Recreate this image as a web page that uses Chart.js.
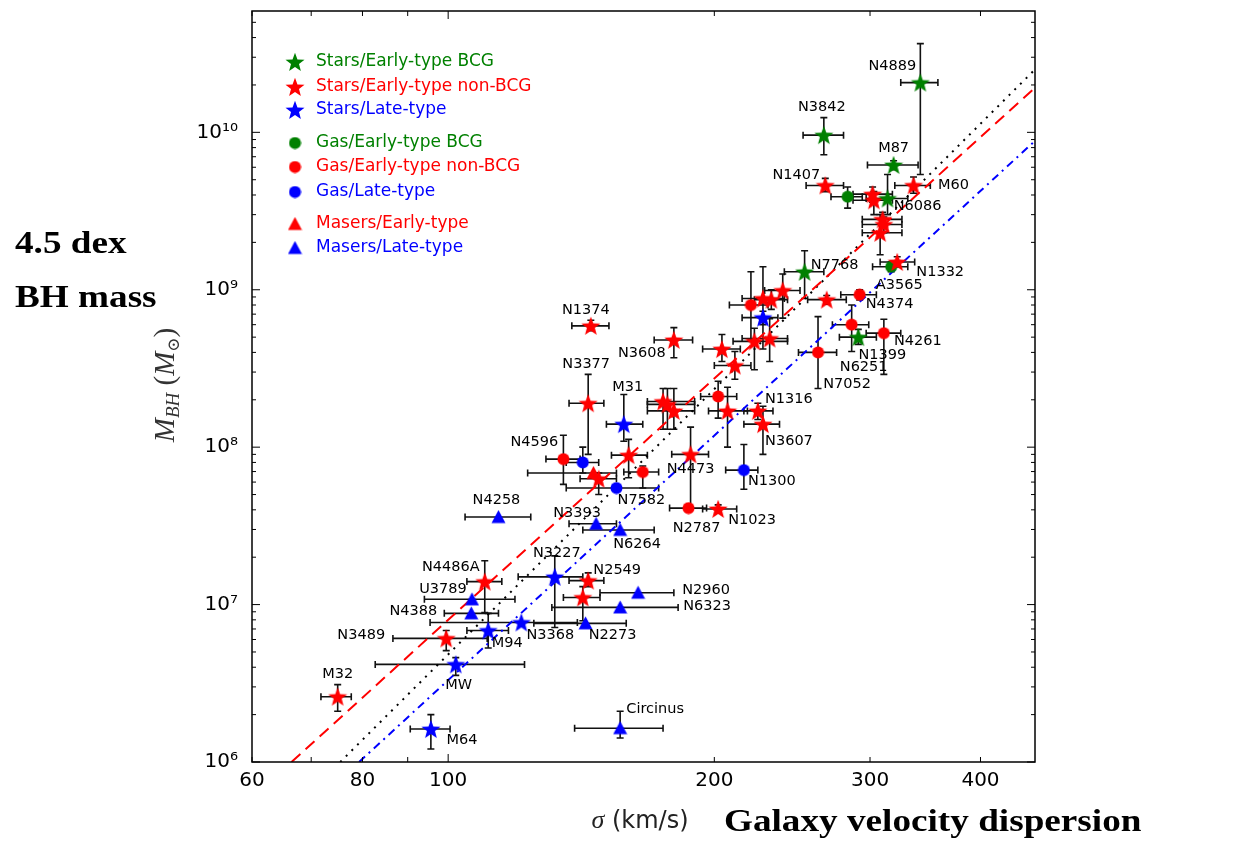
<!DOCTYPE html>
<html>
<head>
<meta charset="utf-8">
<script src="https://cdn.jsdelivr.net/npm/chart.js@4.4.0/dist/chart.umd.min.js"></script>
<style>
  html, body { margin: 0; padding: 0; background: #fff; }
</style>
</head>
<body>
<canvas id="myChart" width="1252" height="854"></canvas>
<script>
// data - one entry per galaxy

const names = [
  'N4889', 'N3842', 'M87', 'N1407', 'M60', '', '', '', 'N6086', '', '', '',
  'N1332', 'A3565', 'N7768', 'N4374', '', '', '', '', '', '', '', '', '', '',
  'N3608', 'N7052', 'N6251', 'N1399', 'N4261', '', '', 'N1316', 'N3607', '', '', '',
  'N4473', 'N1300', 'N2787', 'N1023', 'N1374', 'N3377', 'M31', 'N4596', '', '', '', '', '',
  'N7582', 'N4258', 'N3393', 'N6264', 'N3227', 'N2549', '', 'N2960', 'N6323', 'N2273',
  'N3368', 'Circinus', 'N4486A', 'U3789', 'N4388', 'M94', 'N3489', 'MW', 'M32', 'M64'
];

// SB/SE/SL = stars BCG/early/late, GB/GE/GL = gas, ME/ML = masers
const kinds = [
  'SB', 'SB', 'SB', 'SE', 'SE', 'GB', 'SE', 'SE', 'SB', 'SE', 'SE', 'SE',
  'SE', 'GB', 'SB', 'GE', 'SE', 'SE', 'SE', 'SE', 'GE', 'SL', 'SE', 'SE', 'SE', 'SE',
  'SE', 'GE', 'GE', 'SB', 'GE', 'GE', 'SE', 'SE', 'SE', 'SE', 'SE', 'SE',
  'SE', 'GL', 'GE', 'SE', 'SE', 'SE', 'SL', 'GE', 'GL', 'SE', 'GE', 'ME', 'SE',
  'GL', 'ML', 'ML', 'ML', 'SL', 'SE', 'SE', 'ML', 'ML', 'ML',
  'SL', 'ML', 'SE', 'ML', 'ML', 'SL', 'SE', 'SL', 'SE', 'SL'
];

const sigma = [
  342, 266, 319, 267, 336, 283, 302, 303, 314, 310, 311, 308,
  322, 317, 253, 292, 268, 239, 227, 232, 220, 227, 222, 231, 204, 211,
  180, 262, 286, 291, 311, 202, 207, 224, 227, 175, 177, 180,
  188, 216, 187, 202, 145, 144, 158, 135, 142, 160, 166, 146, 148,
  155, 114, 147, 156.5, 132, 144, 142, 164, 156.5, 143,
  121, 156.5, 110, 106.4, 106.2, 111, 99.5, 102, 75, 95.6
];
const sigmaLo = [
  325, 252, 298, 254, 320, 271, 287, 287, 297, 294, 294, 294,
  308, 302, 240, 278, 255, 228, 215, 222, 208, 215, 210, 215, 194, 200,
  171, 249, 272, 277, 297, 193, 197, 216, 216, 168, 168, 168,
  179, 206, 178, 194, 138, 137, 151, 129, 136, 153, 158, 123, 141,
  136, 104.5, 137, 142, 120, 137, 135, 148.5, 131, 125,
  95.4, 139, 105, 94, 99, 105, 86.6, 82.7, 71.8, 90.6
];
const sigmaHi = [
  358, 280, 340, 280, 351, 294, 318, 318, 331, 326, 326, 326,
  337, 331, 266, 305, 282, 250, 240, 242, 230, 236, 242, 242, 214, 220,
  189, 275, 299, 305, 325, 212, 218, 233, 237, 190, 190, 190,
  197, 224, 196, 212, 152, 150, 166, 141, 148, 168, 173, 155, 155,
  173, 124, 155, 171, 142, 150, 148.5, 180, 182, 159,
  140, 175, 115, 119, 114, 117, 110.7, 122, 77.7, 100.5
];

const mass = [
  2.07e10, 9.6e9, 6.2e9, 4.6e9, 4.6e9, 3.9e9, 4.05e9, 3.7e9, 3.8e9, 2.8e9, 2.6e9, 2.3e9,
  1.5e9, 1.4e9, 1.3e9, 9.3e8, 8.65e8, 9.9e8, 8.8e8, 8.65e8, 8.0e8, 6.65e8, 4.7e8, 4.9e8, 4.2e8, 3.3e8,
  4.8e8, 4.0e8, 6.0e8, 5.0e8, 5.3e8, 2.1e8, 1.7e8, 1.7e8, 1.4e8, 1.95e8, 1.87e8, 1.7e8,
  9.0e7, 7.15e7, 4.1e7, 4.05e7, 5.9e8, 1.9e8, 1.4e8, 8.4e7, 8.0e7, 8.9e7, 6.95e7, 6.85e7, 6.3e7,
  5.5e7, 3.6e7, 3.26e7, 2.98e7, 1.5e7, 1.42e7, 1.11e7, 1.19e7, 9.6e6, 7.6e6,
  7.7e6, 1.64e6, 1.4e7, 1.08e7, 8.8e6, 6.85e6, 6.1e6, 4.17e6, 2.6e6, 1.62e6
];
const massLo = [
  5.4e9, 7.2e9, 5.8e9, 4.2e9, 4.1e9, 3.3e9, 3.6e9, 3.0e9, 3.0e9, 2.5e9, 2.3e9, 1.67e9,
  1.4e9, 1.3e9, 8.8e8, 8.6e8, 8.1e8, 6.6e8, 4.2e8, 7.5e8, 4.8e8, 6.0e8, 3.1e8, 3.5e8, 3.5e8, 2.7e8,
  3.7e8, 2.36e8, 4.05e8, 4.5e8, 2.9e8, 1.53e8, 1.0e8, 1.5e8, 9.0e7, 1.3e8, 1.3e8, 1.3e8,
  4.1e7, 5.4e7, 3.9e7, 3.8e7, 5.5e8, 9.0e7, 1.09e8, 5.8e7, 6.85e7, 6.4e7, 5.5e7, 6.85e7, 5.0e7,
  5.5e7, 3.6e7, 3.26e7, 2.98e7, 7.15e6, 1.3e7, 7.9e6, 1.19e7, 9.6e6, 7.6e6,
  7.7e6, 1.42e6, 8.9e6, 1.08e7, 8.8e6, 5.3e6, 5.1e6, 3.55e6, 2.1e6, 1.21e6
];
const massHi = [
  3.66e10, 1.24e10, 6.6e9, 5.1e9, 5.2e9, 4.5e9, 4.5e9, 4.2e9, 5.4e9, 3.1e9, 2.9e9, 3.0e9,
  1.62e9, 1.5e9, 1.77e9, 1.0e9, 9.2e8, 1.26e9, 1.4e9, 1.0e9, 1.3e9, 7.3e8, 5.7e8, 6.55e8, 5.2e8, 4.05e8,
  5.75e8, 6.75e8, 8.0e8, 5.6e8, 6.5e8, 2.62e8, 2.4e8, 1.9e8, 1.82e8, 2.36e8, 2.36e8, 2.36e8,
  1.34e8, 1.04e8, 4.3e7, 4.3e7, 6.4e8, 2.9e8, 2.16e8, 1.19e8, 1.0e8, 1.12e8, 7.6e7, 6.85e7, 6.85e7,
  5.5e7, 3.6e7, 3.26e7, 2.98e7, 2.04e7, 1.59e7, 1.3e7, 1.19e7, 9.6e6, 7.6e6,
  7.7e6, 2.1e6, 1.9e7, 1.08e7, 8.8e6, 8.8e6, 6.85e6, 4.6e6, 3.1e6, 2.0e6
];

// fit lines: end points (sigma, M_BH)
const fitEarlySigma = [66.5, 461];
const fitEarlyMass = [1e6, 1.92e10];
const fitAllSigma = [75.5, 461];
const fitAllMass = [1e6, 2.51e10];
const fitLateSigma = [79.3, 461];
const fitLateMass = [1e6, 8.83e9];

// axes
const xTicks = [60, 80, 100, 200, 300, 400];
const yTicks = [1e6, 1e7, 1e8, 1e9, 1e10];
const yTickLabels = ['10⁶', '10⁷', '10⁸', '10⁹', '10¹⁰'];

// styling

const GREEN = '#008000';
const RED = '#ff0000';
const BLUE = '#0000ff';

const kindOrder = ['SB', 'SE', 'SL', 'GB', 'GE', 'GL', 'ME', 'ML'];
const kindInfo = {
  SB: { text: 'Stars/Early-type BCG', shape: 'star', color: GREEN },
  SE: { text: 'Stars/Early-type non-BCG', shape: 'star', color: RED },
  SL: { text: 'Stars/Late-type', shape: 'star', color: BLUE },
  GB: { text: 'Gas/Early-type BCG', shape: 'circle', color: GREEN },
  GE: { text: 'Gas/Early-type non-BCG', shape: 'circle', color: RED },
  GL: { text: 'Gas/Late-type', shape: 'circle', color: BLUE },
  ME: { text: 'Masers/Early-type', shape: 'triangle', color: RED },
  ML: { text: 'Masers/Late-type', shape: 'triangle', color: BLUE }
};
const legendRows = [62, 87, 110, 143, 167, 192, 224, 248];
const markerSize = { star: 20, circle: 13, triangle: 15 };

// label offsets from the marker, px
const labelPos = {
  N4889: [-28, -16], N3842: [-2, -28], M87: [0, -17], N1407: [-29, -10], M60: [40, 0],
  N6086: [30, 8], N1332: [43, 10], A3565: [8, 18], N7768: [30, -7], N4374: [30, 10],
  N6251: [12, 43], N1399: [24, 18], N4261: [34, 8], N7052: [29, 32], N3608: [-32, 13],
  N1316: [31, -12], N3607: [26, 17], N4473: [0, 15], N1300: [28, 11], N2787: [8, 20],
  N1023: [34, 11], N1374: [-5, -16], N3377: [-2, -39], M31: [4, -37], N4596: [-29, -17],
  N7582: [25, 12], N4258: [-2, -17], N3393: [-19, -11], N6264: [17, 14], N3227: [2, -24],
  N2549: [29, -10], N2960: [68, -2], N6323: [87, -1], N2273: [27, 12], N3368: [29, 13],
  Circinus: [35, -19], N4486A: [-34, -14], U3789: [-29, -10], N4388: [-58, -2], M94: [19, 13],
  N3489: [-85, -3], MW: [3, 21], M32: [0, -22], M64: [31, 11]
};

function makeMarker(shape, color, size) {
  const c = document.createElement('canvas');
  c.width = size;
  c.height = size;
  const g = c.getContext('2d');
  const r = size / 2;
  g.fillStyle = color;
  g.beginPath();
  if (shape === 'star') {
    for (let k = 0; k < 10; k++) {
      const rr = k % 2 ? r * 0.42 : r;
      const a = -Math.PI / 2 + k * Math.PI / 5;
      g.lineTo(r + rr * Math.cos(a), r + 0.8 + rr * Math.sin(a));
    }
  } else if (shape === 'circle') {
    g.arc(r, r, r - 0.5, 0, Math.PI * 2);
  } else {
    g.moveTo(r, 0.5);
    g.lineTo(size - 0.5, size - 1.5);
    g.lineTo(0.5, size - 1.5);
  }
  g.closePath();
  g.fill();
  return c;
}

const markers = {};
kindOrder.forEach(k => {
  const info = kindInfo[k];
  markers[k] = makeMarker(info.shape, info.color, markerSize[info.shape]);
});

// datasets

function fitLine(xs, ys, color, dash) {
  return {
    type: 'line',
    data: [{ x: xs[0], y: ys[0] }, { x: xs[1], y: ys[1] }],
    borderColor: color,
    borderWidth: 2,
    borderDash: dash,
    pointRadius: 0,
    fill: false,
    order: 10
  };
}

const pointSets = kindOrder.map(k => ({
  label: kindInfo[k].text,
  data: sigma.map((s, i) => ({ x: s, y: mass[i], k: kinds[i] })).filter(p => p.k === k),
  pointStyle: markers[k],
  pointRadius: markerSize[kindInfo[k].shape] / 2,
  order: 0
}));

const data = {
  datasets: [
    fitLine(fitEarlySigma, fitEarlyMass, RED, [12, 7]),
    fitLine(fitAllSigma, fitAllMass, '#000', [2, 6]),
    fitLine(fitLateSigma, fitLateMass, BLUE, [8, 5, 2, 5]),
    ...pointSets
  ]
};

// plugin - error bars, frame, inward ticks, names, legend, annotations

function drawMixed(ctx, parts, x, y) {
  let w = 0;
  parts.forEach(p => { ctx.font = p[1]; w += ctx.measureText(p[0]).width; });
  let cx = x - w / 2;
  parts.forEach(p => {
    ctx.font = p[1];
    ctx.fillText(p[0], cx, y + (p[2] || 0));
    cx += ctx.measureText(p[0]).width;
  });
}

const decor = {
  id: 'decor',
  beforeDatasetsDraw(chart) {
    const { ctx, scales: { x, y } } = chart;
    ctx.save();
    ctx.strokeStyle = '#111';
    ctx.lineWidth = 1.6;
    const cap = 3.5;
    sigma.forEach((s, i) => {
      const px = x.getPixelForValue(s);
      const py = y.getPixelForValue(mass[i]);
      const x0 = x.getPixelForValue(sigmaLo[i]);
      const x1 = x.getPixelForValue(sigmaHi[i]);
      ctx.beginPath();
      ctx.moveTo(x0, py); ctx.lineTo(x1, py);
      ctx.moveTo(x0, py - cap); ctx.lineTo(x0, py + cap);
      ctx.moveTo(x1, py - cap); ctx.lineTo(x1, py + cap);
      if (massHi[i] > massLo[i]) {
        const y0 = y.getPixelForValue(massLo[i]);
        const y1 = y.getPixelForValue(massHi[i]);
        ctx.moveTo(px, y0); ctx.lineTo(px, y1);
        ctx.moveTo(px - cap, y0); ctx.lineTo(px + cap, y0);
        ctx.moveTo(px - cap, y1); ctx.lineTo(px + cap, y1);
      }
      ctx.stroke();
    });
    ctx.restore();
  },
  afterDatasetsDraw(chart) {
    const { ctx, chartArea: a, scales: { x, y } } = chart;
    ctx.save();

    // frame
    ctx.strokeStyle = '#000';
    ctx.lineWidth = 1.5;
    ctx.strokeRect(a.left, a.top, a.right - a.left, a.bottom - a.top);

    // inward tick marks
    ctx.lineWidth = 1;
    ctx.beginPath();
    for (let d = 6; d <= 10; d++) {
      for (let m = 1; m <= 9; m++) {
        const v = m * Math.pow(10, d);
        if (v > y.max) break;
        const py = y.getPixelForValue(v);
        const len = m === 1 ? 8 : 4;
        ctx.moveTo(a.left, py); ctx.lineTo(a.left + len, py);
        ctx.moveTo(a.right, py); ctx.lineTo(a.right - len, py);
      }
    }
    [60, 70, 80, 90, 100, 200, 300, 400].forEach(v => {
      const px = x.getPixelForValue(v);
      const len = v === 100 ? 8 : 5;
      ctx.moveTo(px, a.bottom); ctx.lineTo(px, a.bottom - len);
      ctx.moveTo(px, a.top); ctx.lineTo(px, a.top + len);
    });
    ctx.stroke();

    // galaxy names
    ctx.fillStyle = '#000';
    ctx.font = '14.5px "DejaVu Sans"';
    ctx.textAlign = 'center';
    ctx.textBaseline = 'middle';
    names.forEach((n, i) => {
      if (!n) return;
      const off = labelPos[n] || [0, -16];
      ctx.fillText(n, x.getPixelForValue(sigma[i]) + off[0], y.getPixelForValue(mass[i]) + off[1]);
    });

    // legend
    ctx.textAlign = 'left';
    ctx.font = '17px "DejaVu Sans"';
    kindOrder.forEach((k, r) => {
      const img = markers[k];
      const ly = legendRows[r];
      ctx.drawImage(img, 295 - img.width / 2, ly - img.height / 2);
      ctx.fillStyle = kindInfo[k].color;
      ctx.fillText(kindInfo[k].text, 316, ly);
    });

    ctx.restore();

    // axis titles and slide annotations
    ctx.save();
    ctx.fillStyle = '#333';
    ctx.textAlign = 'left';
    ctx.textBaseline = 'alphabetic';
    ctx.translate(174, 385);
    ctx.rotate(-Math.PI / 2);
    drawMixed(ctx, [
      ['M', 'italic 29px "Liberation Serif"'],
      ['BH', 'italic 19px "Liberation Serif"', 5],
      [' (', '29px "Liberation Serif"'],
      ['M', 'italic 29px "Liberation Serif"'],
      ['⊙', '17px "DejaVu Serif"', 5],
      [')', '29px "Liberation Serif"']
    ], 0, 0);
    ctx.restore();

    ctx.save();
    ctx.fillStyle = '#222';
    ctx.textAlign = 'left';
    ctx.textBaseline = 'alphabetic';
    drawMixed(ctx, [
      ['σ', 'italic 26px "Liberation Serif"'],
      [' (km/s)', '24px "DejaVu Sans"']
    ], 640, 828);

    ctx.fillStyle = '#000';
    ctx.font = 'bold 31px "Liberation Serif"';
    const big = [['4.5 dex', 15, 253], ['BH mass', 15, 307], ['Galaxy velocity dispersion', 724, 831]];
    big.forEach(t => {
      ctx.save();
      ctx.translate(t[1], t[2]);
      ctx.scale(1.2, 1);
      ctx.fillText(t[0], 0, 0);
      ctx.restore();
    });
    ctx.restore();
  }
};

// options

const options = {
  responsive: false,
  animation: false,
  events: [],
  devicePixelRatio: 1,
  layout: { padding: { left: 0, right: 217, top: 8, bottom: 0 } },
  plugins: {
    legend: { display: false },
    tooltip: { enabled: false }
  },
  scales: {
    x: {
      type: 'logarithmic',
      min: 60,
      max: 461,
      grid: { display: false, drawTicks: false },
      border: { display: false },
      afterBuildTicks: s => { s.ticks = xTicks.map(v => ({ value: v })); },
      afterFit: s => { s.height = 92; s.paddingLeft = 0; s.paddingRight = 0; },
      ticks: {
        autoSkip: false,
        maxRotation: 0,
        padding: 7,
        color: '#000',
        font: { family: 'DejaVu Sans', size: 20 },
        callback: (v, i) => String(xTicks[i])
      }
    },
    y: {
      type: 'logarithmic',
      min: 1e6,
      max: 5.9e10,
      grid: { display: false, drawTicks: false },
      border: { display: false },
      afterBuildTicks: s => { s.ticks = yTicks.map(v => ({ value: v })); },
      afterFit: s => { s.width = 252; s.paddingTop = 0; s.paddingBottom = 0; },
      ticks: {
        autoSkip: false,
        padding: 14,
        color: '#000',
        font: { family: 'DejaVu Sans', size: 20 },
        callback: (v, i) => yTickLabels[i]
      }
    }
  }
};

const config = {
  type: 'scatter',
  data,
  options,
  plugins: [decor]
};

const myChart = new Chart(document.getElementById('myChart'), config);
</script>
</body>
</html>
